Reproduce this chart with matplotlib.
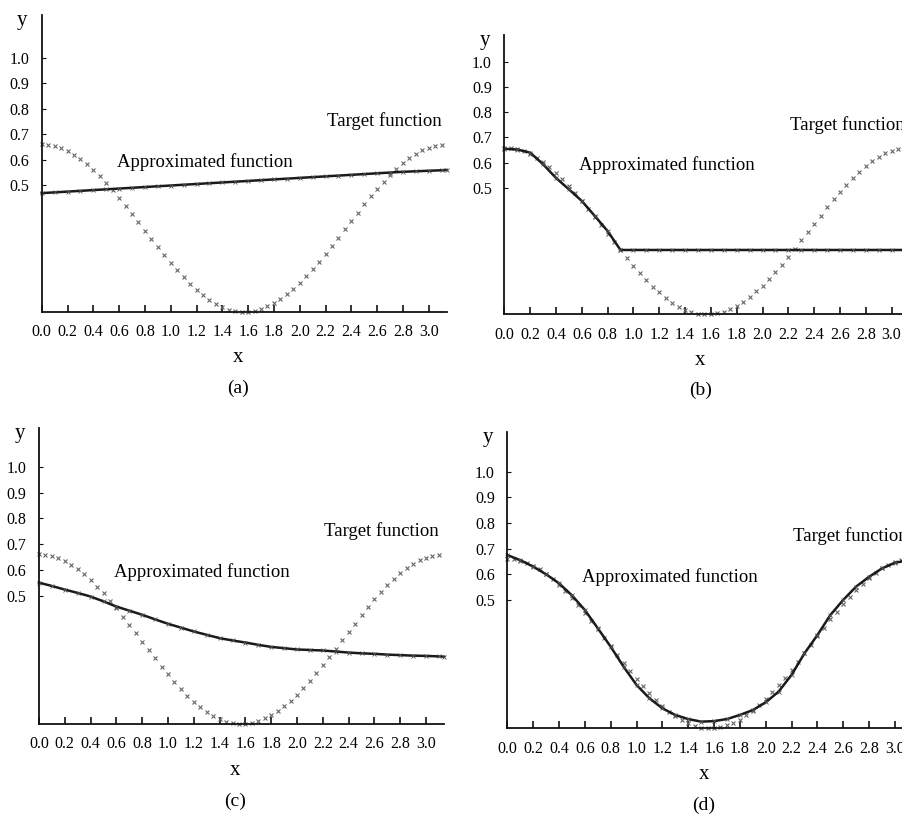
import numpy as np
import matplotlib
matplotlib.use("Agg")
import matplotlib.pyplot as plt

plt.rcParams['font.family'] = ['Liberation Serif', 'DejaVu Serif']

# ---- data ----
x_target = [0.00, 0.05, 0.10, 0.15, 0.20, 0.25, 0.30, 0.35, 0.40, 0.45,
            0.50, 0.55, 0.60, 0.65, 0.70, 0.75, 0.80, 0.85, 0.90, 0.95,
            1.00, 1.05, 1.10, 1.15, 1.20, 1.25, 1.30, 1.35, 1.40, 1.45,
            1.50, 1.55, 1.60, 1.65, 1.70, 1.75, 1.80, 1.85, 1.90, 1.95,
            2.00, 2.05, 2.10, 2.15, 2.20, 2.25, 2.30, 2.35, 2.40, 2.45,
            2.50, 2.55, 2.60, 2.65, 2.70, 2.75, 2.80, 2.85, 2.90, 2.95,
            3.00, 3.05, 3.10]
y_target = [0.660, 0.658, 0.653, 0.645, 0.634, 0.620, 0.602, 0.582, 0.560, 0.535,
            0.508, 0.480, 0.450, 0.418, 0.386, 0.353, 0.320, 0.287, 0.255, 0.223,
            0.193, 0.164, 0.136, 0.110, 0.087, 0.065, 0.047, 0.031, 0.019, 0.009,
            0.003, 0.000, 0.001, 0.004, 0.011, 0.022, 0.034, 0.050, 0.069, 0.091,
            0.114, 0.141, 0.168, 0.197, 0.228, 0.260, 0.293, 0.326, 0.358, 0.391,
            0.424, 0.455, 0.485, 0.513, 0.540, 0.564, 0.587, 0.606, 0.623, 0.637,
            0.647, 0.655, 0.659]

x_approx = [0.0, 0.1, 0.2, 0.3, 0.4, 0.5, 0.6, 0.7, 0.8, 0.9,
            1.0, 1.1, 1.2, 1.3, 1.4, 1.5, 1.6, 1.7, 1.8, 1.9,
            2.0, 2.1, 2.2, 2.3, 2.4, 2.5, 2.6, 2.7, 2.8, 2.9,
            3.0, 3.1, 3.14]
y_approx_a = [0.468, 0.471, 0.474, 0.477, 0.480, 0.483, 0.486, 0.489, 0.492, 0.495,
              0.498, 0.501, 0.504, 0.507, 0.510, 0.513, 0.516, 0.519, 0.522, 0.525,
              0.528, 0.531, 0.534, 0.537, 0.540, 0.543, 0.546, 0.549, 0.552, 0.554,
              0.556, 0.558, 0.559]
y_approx_b = [0.655, 0.652, 0.640, 0.594, 0.540, 0.495, 0.449, 0.390, 0.330, 0.255,
              0.255, 0.255, 0.255, 0.255, 0.255, 0.255, 0.255, 0.255, 0.255, 0.255,
              0.255, 0.255, 0.255, 0.255, 0.255, 0.255, 0.255, 0.255, 0.255, 0.255,
              0.255, 0.255, 0.255]
y_approx_c = [0.550, 0.537, 0.523, 0.510, 0.496, 0.477, 0.457, 0.441, 0.425, 0.407,
              0.390, 0.375, 0.360, 0.347, 0.334, 0.325, 0.317, 0.308, 0.300, 0.295,
              0.290, 0.288, 0.286, 0.282, 0.278, 0.275, 0.273, 0.270, 0.268, 0.266,
              0.265, 0.263, 0.262]
y_approx_d = [0.675, 0.655, 0.630, 0.600, 0.565, 0.518, 0.461, 0.390, 0.318, 0.240,
              0.169, 0.117, 0.078, 0.052, 0.036, 0.026, 0.028, 0.036, 0.052, 0.071,
              0.101, 0.143, 0.208, 0.292, 0.363, 0.441, 0.500, 0.552, 0.590, 0.623,
              0.645, 0.654, 0.657]

x_ticks = [0.0, 0.2, 0.4, 0.6, 0.8, 1.0, 1.2, 1.4, 1.6, 1.8, 2.0, 2.2, 2.4, 2.6, 2.8, 3.0]
x_ticklabels = ['0.0', '0.2', '0.4', '0.6', '0.8', '1.0', '1.2', '1.4', '1.6', '1.8',
                '2.0', '2.2', '2.4', '2.6', '2.8', '3.0']
y_ticks = [0.5, 0.6, 0.7, 0.8, 0.9, 1.0]
y_ticklabels = ['0.5', '0.6', '0.7', '0.8', '0.9', '1.0']
panel_labels = ['(a)', '(b)', '(c)', '(d)']
approx_series = [y_approx_a, y_approx_b, y_approx_c, y_approx_d]

W, H = 902, 816
fig = plt.figure(figsize=(W / 100, H / 100), dpi=100)

# axes boxes in pixels: (x of x=0, bottom spine y, px per x-unit, px per y-unit, top of y spine)
boxes = [
    (41.7, 312.0, 129.0, 254.0, 15.0),
    (504.3, 314.5, 129.1, 253.0, 35.0),
    (39.0, 724.0, 129.0, 257.0, 428.0),
    (507.3, 728.3, 129.2, 256.7, 432.3),
]
xmax = 3.14

for i, (x0, yb, sx, sy, ytop) in enumerate(boxes):
    left = x0 / W
    width = xmax * sx / W
    bottom = (H - yb) / H
    height = (yb - ytop) / H
    ax = fig.add_axes([left, bottom, width, height])
    ymax = (yb - ytop) / sy
    ax.set_xlim(0, xmax)
    ax.set_ylim(0, ymax)
    ax.spines['top'].set_visible(False)
    ax.spines['right'].set_visible(False)
    for s in ('left', 'bottom'):
        ax.spines[s].set_linewidth(1.3)
        ax.spines[s].set_color('#111111')
    ax.set_xticks(x_ticks)
    ax.set_xticklabels(x_ticklabels)
    ax.set_yticks(y_ticks)
    ax.set_yticklabels(y_ticklabels)
    ax.tick_params(axis='x', direction='in', length=5, width=1.2, pad=9,
                   labelsize=11.5, color='#111111')
    ax.tick_params(axis='y', direction='in', length=3, width=0.8, pad=9,
                   labelsize=11.5, color='#111111')

    # target function: sparse small markers
    ax.plot(x_target, y_target, linestyle='none', marker='x', markersize=2.2,
            markeredgewidth=0.8, color='#666666', clip_on=False)
    # approximated function: dense thick line
    ax.plot(x_approx, approx_series[i], color='#1a1a1a', linewidth=1.8,
            clip_on=False)
    ax.plot(x_approx, approx_series[i], linestyle='none', marker='x', markersize=3,
            markeredgewidth=0.6, color='#555555', clip_on=False)

    ax.text(2.21, 0.75, 'Target function', fontsize=13.5, ha='left', va='center')
    ax.text(0.58, 0.59, 'Approximated function', fontsize=13.5, ha='left', va='center')

    # axis letters
    ax.text(-0.15, ymax - 0.02, 'y', fontsize=15, ha='center', va='center')
    ax.text(1.52, -0.18, 'x', fontsize=15, ha='center', va='center')
    ax.text(1.52, -0.30, panel_labels[i], fontsize=14, ha='center', va='center')

fig.savefig('out.png', dpi=100)
